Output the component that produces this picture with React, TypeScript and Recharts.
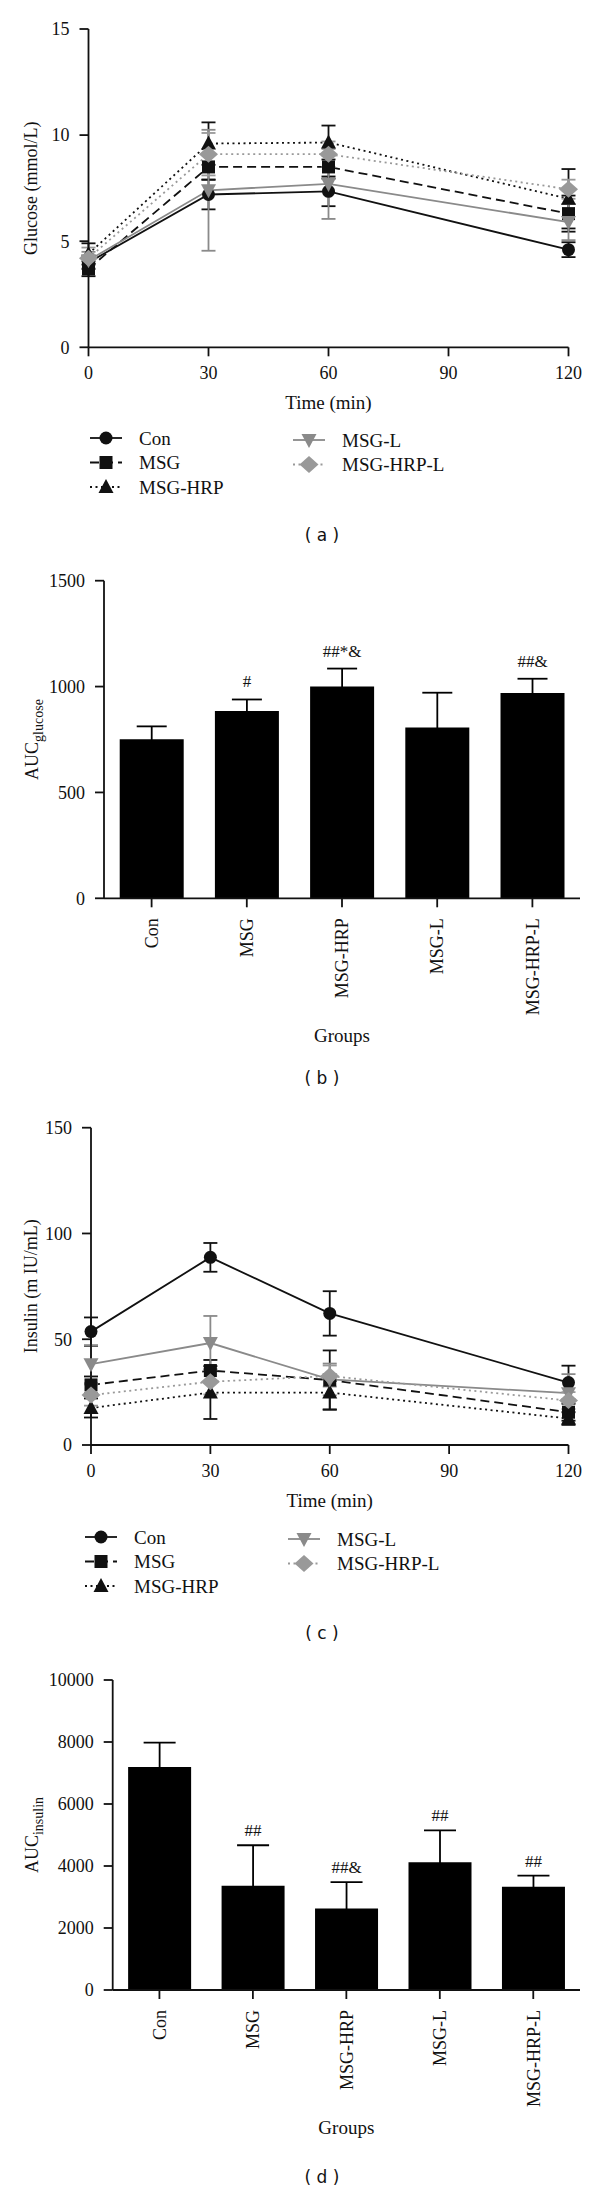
import React from 'react';
import { LineChart, Line, BarChart, Bar, XAxis, YAxis, ErrorBar, Label } from 'recharts';

// time points (min) and group names
const times = [0, 30, 60, 120];
const timeTicks = [0, 30, 60, 90, 120];
const groups = ['Con', 'MSG', 'MSG-HRP', 'MSG-L', 'MSG-HRP-L'];

// (a) glucose, mmol/L
const glucoseCon = [4.0, 7.2, 7.35, 4.6];
const glucoseMsg = [3.7, 8.5, 8.5, 6.3];
const glucoseHrp = [4.4, 9.6, 9.65, 7.0];
const glucoseMsgL = [4.1, 7.4, 7.7, 5.9];
const glucoseHrpL = [4.2, 9.1, 9.1, 7.45];
const glucoseConErr = [0.3, 0.7, 0.7, 0.35];
const glucoseMsgErr = [0.35, 0.6, 0.55, 0.85];
const glucoseHrpErr = [0.5, 1.0, 0.8, 1.4];
const glucoseMsgLErr = [0.4, 2.85, 1.65, 0.85];
const glucoseHrpLErr = [0.5, 1.0, 0.6, 0.45];
const glucoseTicks = [0, 5, 10, 15];

// (b) AUC glucose
const aucGlucose = [751, 885, 1000, 807, 970];
const aucGlucoseErr = [61, 54, 85, 164, 67];
const aucGlucoseSig = ['', '#', '##*&', '', '##&'];
const aucGlucoseTicks = [0, 500, 1000, 1500];

// (c) insulin, mIU/mL
const insulinCon = [53.6, 88.7, 62.2, 29.5];
const insulinMsg = [28.4, 35.2, 30.7, 15.5];
const insulinHrp = [17.5, 24.8, 24.8, 12.5];
const insulinMsgL = [38.2, 48.2, 31, 24.5];
const insulinHrpL = [23.6, 29.9, 32.6, 21];
const insulinConErr = [6.7, 6.8, 10.5, 8];
const insulinMsgErr = [4, 5, 14, 4];
const insulinHrpErr = [4.5, 12.5, 8, 3];
const insulinMsgLErr = [9, 12.8, 7.5, 9];
const insulinHrpLErr = [5, 6, 5, 4];
const insulinTicks = [0, 50, 100, 150];

// (d) AUC insulin
const aucInsulin = [7190, 3360, 2630, 4120, 3330];
const aucInsulinErr = [790, 1310, 850, 1030, 360];
const aucInsulinSig = ['', '##', '##&', '##', '##'];
const aucInsulinTicks = [0, 2000, 4000, 6000, 8000, 10000];

const FONT = '"Liberation Serif", "Times New Roman", serif';
const INK = '#111';
const GRAY = '#8a8a8a';

const seriesStyles = [
  { key: 'con', color: INK, dash: undefined, shape: 'circle' },
  { key: 'msg', color: INK, dash: '9 5', shape: 'square' },
  { key: 'hrp', color: INK, dash: '2 3.5', shape: 'triangle' },
  { key: 'msgL', color: GRAY, dash: undefined, shape: 'triangleDown' },
  { key: 'hrpL', color: '#999', dash: '2 3.5', shape: 'diamond' },
];

function buildTimeTable(values: number[][], errs: number[][]) {
  return times.map((t, i) => {
    const row: any = { time: t };
    seriesStyles.forEach((s, k) => {
      row[s.key] = values[k][i];
      row[s.key + 'Err'] = errs[k][i];
    });
    return row;
  });
}

const glucoseData = buildTimeTable(
  [glucoseCon, glucoseMsg, glucoseHrp, glucoseMsgL, glucoseHrpL],
  [glucoseConErr, glucoseMsgErr, glucoseHrpErr, glucoseMsgLErr, glucoseHrpLErr]
);
const insulinData = buildTimeTable(
  [insulinCon, insulinMsg, insulinHrp, insulinMsgL, insulinHrpL],
  [insulinConErr, insulinMsgErr, insulinHrpErr, insulinMsgLErr, insulinHrpLErr]
);
const aucGlucoseData = groups.map((g, i) => ({ group: g, value: aucGlucose[i], err: aucGlucoseErr[i], sig: aucGlucoseSig[i] }));
const aucInsulinData = groups.map((g, i) => ({ group: g, value: aucInsulin[i], err: aucInsulinErr[i], sig: aucInsulinSig[i] }));

const Marker = ({ shape, cx, cy, fill }: any) => {
  if (cx == null || cy == null) return <g />;
  switch (shape) {
    case 'circle':
      return <circle cx={cx} cy={cy} r={6.5} fill={fill} />;
    case 'square':
      return <rect x={cx - 6.5} y={cy - 6.5} width={13} height={13} fill={fill} />;
    case 'triangle':
      return <polygon points={`${cx},${cy - 8} ${cx + 7.5},${cy + 6} ${cx - 7.5},${cy + 6}`} fill={fill} />;
    case 'triangleDown':
      return <polygon points={`${cx},${cy + 8} ${cx + 7.5},${cy - 6} ${cx - 7.5},${cy - 6}`} fill={fill} />;
    default:
      return <polygon points={`${cx},${cy - 8.5} ${cx + 9.5},${cy} ${cx},${cy + 8.5} ${cx - 9.5},${cy}`} fill={fill} />;
  }
};

const tickStyle = { fill: INK, fontSize: 18, fontFamily: FONT };
const axisStroke = { stroke: INK, strokeWidth: 1.8 };

function TimeCourse({ top, height, marginTop, yWidth, xHeight, data, yMax, yTicks, yLabel }: any) {
  return (
    <div style={{ position: 'absolute', left: 0, top }}>
      <LineChart width={600} height={height} data={data} margin={{ top: marginTop, right: 31.5, bottom: 0, left: 0 }}>
        <XAxis
          type="number"
          dataKey="time"
          domain={[0, 120]}
          ticks={timeTicks}
          height={xHeight}
          tickSize={9}
          tickMargin={10}
          tick={tickStyle}
          axisLine={axisStroke}
          tickLine={axisStroke}
        >
          <Label
            content={({ viewBox }: any) => (
              <text x={viewBox.x + viewBox.width / 2} y={viewBox.y + 55} dy="0.35em" textAnchor="middle" fontSize={19} fontFamily={FONT} fill={INK}>
                Time (min)
              </text>
            )}
          />
        </XAxis>
        <YAxis
          domain={[0, yMax]}
          ticks={yTicks}
          width={yWidth}
          tickSize={9}
          tickMargin={10}
          tick={tickStyle}
          axisLine={axisStroke}
          tickLine={axisStroke}
        >
          <Label
            content={({ viewBox }: any) => (
              <text
                transform={`translate(37, ${viewBox.y + viewBox.height / 2}) rotate(-90)`}
                textAnchor="middle"
                fontSize={18}
                fontFamily={FONT}
                fill={INK}
              >
                {yLabel}
              </text>
            )}
          />
        </YAxis>
        {seriesStyles.map((s) => (
          <Line
            key={s.key}
            dataKey={s.key}
            stroke={s.color}
            strokeWidth={1.8}
            strokeDasharray={s.dash}
            isAnimationActive={false}
            activeDot={false}
            dot={(p: any) => <Marker key={`${s.key}-${p.index}`} shape={s.shape} cx={p.cx} cy={p.cy} fill={s.color} />}
          >
            <ErrorBar dataKey={s.key + 'Err'} direction="y" width={7} stroke={s.color} strokeWidth={1.8} />
          </Line>
        ))}
      </LineChart>
    </div>
  );
}

const RotatedTick = ({ x, y, payload }: any) => (
  <text
    x={x}
    y={y}
    transform={`rotate(-90 ${x} ${y})`}
    textAnchor="end"
    dy="0.35em"
    fontSize={18}
    fontFamily={FONT}
    fill={INK}
  >
    {payload.value}
  </text>
);

function AucBars({ top, height, marginTop, yWidth, xHeight, data, yMax, yTicks, sub, capHalf, sigGap }: any) {
  return (
    <div style={{ position: 'absolute', left: 0, top }}>
      <BarChart width={600} height={height} data={data} margin={{ top: marginTop, right: 20, bottom: 0, left: 0 }} barCategoryGap="16.5%">
        <XAxis
          dataKey="group"
          interval={0}
          height={xHeight}
          tickSize={9}
          tickMargin={11}
          tick={<RotatedTick />}
          axisLine={axisStroke}
          tickLine={axisStroke}
        >
          <Label
            content={({ viewBox }: any) => (
              <text x={viewBox.x + viewBox.width / 2} y={viewBox.y + 137} dy="0.35em" textAnchor="middle" fontSize={19} fontFamily={FONT} fill={INK}>
                Groups
              </text>
            )}
          />
        </XAxis>
        <YAxis
          domain={[0, yMax]}
          ticks={yTicks}
          width={yWidth}
          tickSize={9}
          tickMargin={10}
          tick={tickStyle}
          axisLine={axisStroke}
          tickLine={axisStroke}
        >
          <Label
            content={({ viewBox }: any) => (
              <text
                transform={`translate(38, ${viewBox.y + viewBox.height / 2}) rotate(-90)`}
                textAnchor="middle"
                fontSize={18}
                fontFamily={FONT}
                fill={INK}
              >
                AUC
                <tspan fontSize={14} dy={5}>{sub}</tspan>
              </text>
            )}
          />
        </YAxis>
        <Bar
          dataKey="value"
          fill="#000"
          isAnimationActive={false}
          label={(p: any) => {
            const row = data[p.index];
            if (!row || !row.sig) return <g key={`sig-${p.index}`} />;
            const pxPerUnit = p.height / row.value;
            const errTop = p.y - row.err * pxPerUnit;
            return (
              <text
                key={`sig-${p.index}`}
                x={p.x + p.width / 2}
                y={errTop - sigGap}
                dy="0.35em"
                textAnchor="middle"
                fontSize={17}
                fontFamily={FONT}
                fill={INK}
              >
                {row.sig}
              </text>
            );
          }}
        >
          <ErrorBar dataKey="err" direction="y" width={capHalf} stroke="#000" strokeWidth={1.8} />
        </Bar>
      </BarChart>
    </div>
  );
}

function SeriesLegend({ top, x1, x2 }: any) {
  return (
    <svg style={{ position: 'absolute', left: 0, top }} width={600} height={80}>
      {seriesStyles.map((s, i) => {
        const col = i < 3 ? 0 : 1;
        const row = i < 3 ? i : i - 3;
        const sx = col === 0 ? x1 : x2;
        const y = 12 + row * 24.5 + (col === 1 ? 2 : 0);
        return (
          <g key={s.key}>
            <line x1={sx} x2={sx + 32} y1={y} y2={y} stroke={s.color} strokeWidth={1.8} strokeDasharray={s.dash} />
            <Marker shape={s.shape} cx={sx + 16} cy={y} fill={s.color} />
            <text x={sx + 49} y={y} dy="0.35em" fontSize={19} fontFamily={FONT} fill={INK}>
              {groups[i]}
            </text>
          </g>
        );
      })}
    </svg>
  );
}

const Caption = ({ y, text }: any) => (
  <div
    style={{
      position: 'absolute',
      left: 322,
      top: y,
      transform: 'translate(-50%, -50%)',
      fontFamily: '"DejaVu Sans", sans-serif',
      fontSize: 17,
      color: INK,
      whiteSpace: 'pre',
    }}
  >
    {text}
  </div>
);

export default function App() {
  return (
    <div style={{ position: 'absolute', left: 0, top: 0, width: 600, height: 2190, background: '#fff', overflow: 'hidden' }}>
      <TimeCourse top={0} height={420} marginTop={29} yWidth={88.5} xHeight={72.7} data={glucoseData} yMax={15} yTicks={glucoseTicks} yLabel="Glucose (mmol/L)" />
      <SeriesLegend top={426} x1={90} x2={293} />
      <Caption y={535} text="( a )" />

      <AucBars top={560} height={500} marginTop={20.7} yWidth={104} xHeight={161.7} data={aucGlucoseData} yMax={1500} yTicks={aucGlucoseTicks} sub="glucose" capHalf={15} sigGap={18} />
      <Caption y={1078} text="( b )" />

      <TimeCourse top={1100} height={420} marginTop={27.7} yWidth={91} xHeight={75} data={insulinData} yMax={150} yTicks={insulinTicks} yLabel="Insulin (m IU/mL)" />
      <SeriesLegend top={1525} x1={85} x2={288} />
      <Caption y={1633} text="( c )" />

      <AucBars top={1650} height={500} marginTop={30} yWidth={112.7} xHeight={160} data={aucInsulinData} yMax={10000} yTicks={aucInsulinTicks} sub="insulin" capHalf={16} sigGap={15} />
      <Caption y={2177} text="( d )" />
    </div>
  );
}
